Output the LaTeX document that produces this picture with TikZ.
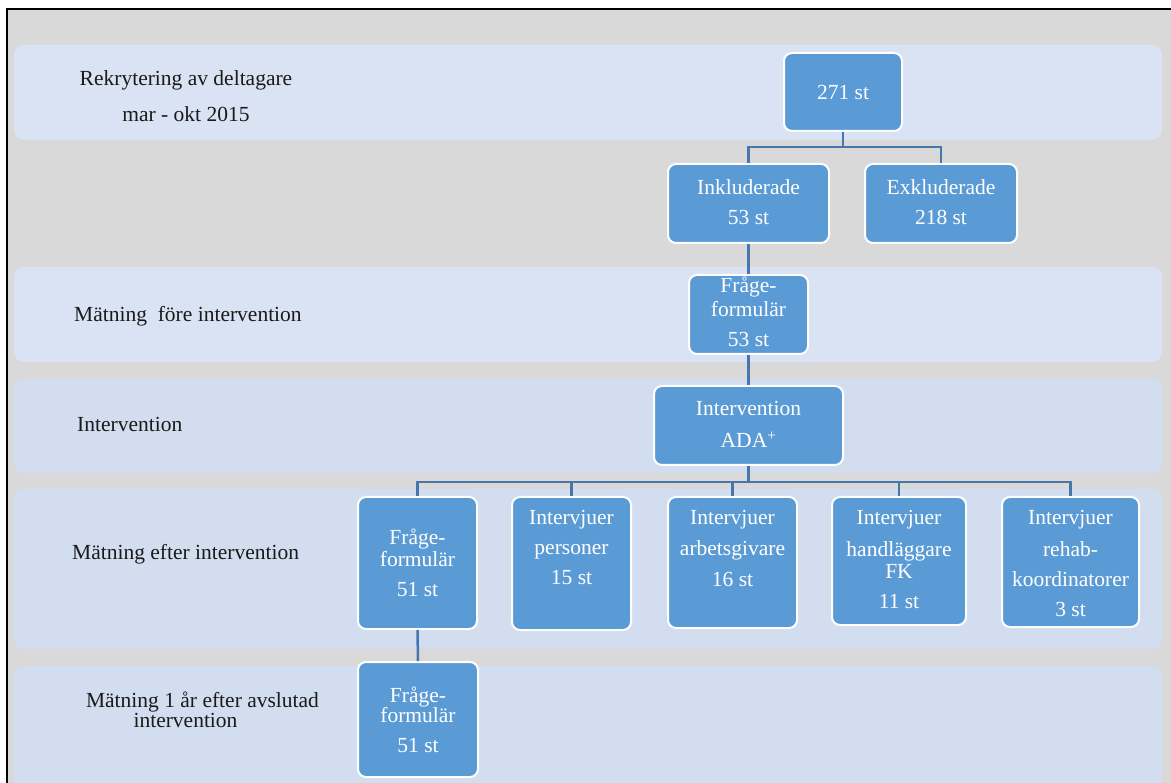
\documentclass[tikz,border=0pt]{standalone}
\usepackage{fontspec}
\setmainfont{Liberation Serif}
\usetikzlibrary{calc}

\definecolor{pagegray}{HTML}{D9D9D9}
\definecolor{bandA}{HTML}{DAE3F3}
\definecolor{bandB}{HTML}{D2DEEF}
\definecolor{boxblue}{HTML}{5B9BD5}
\definecolor{linkblue}{RGB}{70,118,170}
\definecolor{labelink}{HTML}{1A1A1A}

\newcommand{\stack}[1]{\begin{tabular}[t]{@{}c@{}}#1\end{tabular}}

\tikzset{
  band/.style={rounded corners=10pt, draw=none},
  stepbox/.style={rounded corners=8pt, fill=boxblue, draw=white, line width=2pt, inner sep=0pt},
  boxtext/.style={text=white, anchor=base, inner sep=0pt, font=\fontsize{21.5}{22}\selectfont},
  rowlabel/.style={text=labelink, inner sep=0pt, font=\fontsize{21.5}{29}\selectfont},
  link/.style={draw=linkblue, line width=2.5pt},
}

\begin{document}
\begin{tikzpicture}[x=1pt, y=-1pt]
\useasboundingbox (0,0) rectangle (1171,783);
\clip (0,0) rectangle (1171,783);

% page and frame
\fill[white] (0,0) rectangle (1171,783);
\fill[pagegray] (8,10) rectangle (1171,783);
\draw[black, line width=2pt] (7,790) -- (7,9) -- (1175,9);

% horizontal bands
\fill[band, bandA] (14,45) rectangle (1162,140);
\fill[band, bandA] (14,267) rectangle (1162,362);
\fill[band, bandB] (14,379) rectangle (1162,473);
\fill[band, bandB] (14,489) rectangle (1162,649);
\fill[band, bandB] (14,666) rectangle (1162,800);

% row labels
\node[rowlabel, anchor=base] (lab1) at (186,86) {\stack{Rekrytering av deltagare\\[7pt]mar - okt 2015}};
\node[rowlabel, anchor=base west] (lab2) at (74,322) {Mätning\ \ före intervention};
\node[rowlabel, anchor=base west] (lab3) at (77,432) {Intervention};
\node[rowlabel, anchor=base west] (lab4) at (72,560) {Mätning efter intervention};
\node[rowlabel, anchor=base] (lab5) at (202.5,707) {\fontsize{21.5}{20}\selectfont\stack{Mätning 1 år efter avslutad\\\hspace*{-34pt}intervention}};

% boxes
\node[stepbox, minimum width=118pt, minimum height=78pt] (n271) at (843,92) {};
\node[stepbox, minimum width=161pt, minimum height=79pt] (inkl) at (748.5,203.5) {};
\node[stepbox, minimum width=152pt, minimum height=79pt] (exkl) at (941,203.5) {};
\node[stepbox, minimum width=119pt, minimum height=79pt] (fq1) at (748.5,314.5) {};
\node[stepbox, minimum width=189pt, minimum height=79pt] (interv) at (748.5,425.5) {};
\node[stepbox, minimum width=119pt, minimum height=132pt] (fq2) at (417.5,563) {};
\node[stepbox, minimum width=119pt, minimum height=133pt] (pers) at (571.5,563.5) {};
\node[stepbox, minimum width=129pt, minimum height=131pt] (arb) at (732.5,562.5) {};
\node[stepbox, minimum width=134pt, minimum height=128pt] (hand) at (899,561) {};
\node[stepbox, minimum width=137pt, minimum height=130pt] (rehab) at (1070.5,562) {};
\node[stepbox, minimum width=120pt, minimum height=115pt] (fq3) at (418,719.5) {};

% box texts
\node[boxtext] (t271) at (843,100) {271 st};
\node[boxtext] (tinkl) at (748.5,195) {\stack{Inkluderade\\[8pt]53 st}};
\node[boxtext] (texkl) at (941,195) {\stack{Exkluderade\\[8pt]218 st}};
\node[boxtext] (tfq1) at (748.5,293) {\stack{Fråge-\\[2pt]formulär\\[8pt]53 st}};
\node[boxtext] (tinterv) at (748.5,416) {\stack{Intervention\\[9pt]ADA\textsuperscript{+}}};
\node[boxtext] (tfq2) at (417.5,544) {\stack{Fråge-\\formulär\\[8pt]51 st}};
\node[boxtext] (tpers) at (571.5,525) {\stack{Intervjuer\\[8pt]personer\\[8pt]15 st}};
\node[boxtext] (tarb) at (732.5,525) {\stack{Intervjuer\\[9pt]arbetsgivare\\[9pt]16 st}};
\node[boxtext] (thand) at (899,525) {\stack{Intervjuer\\[10pt]handläggare\\FK\\[8pt]11 st}};
\node[boxtext] (trehab) at (1070.5,525) {\stack{Intervjuer\\[10pt]rehab-\\[8pt]koordinatorer\\[8pt]3 st}};
\node[boxtext] (tfq3) at (418,702) {\stack{Fråge-\\[-2pt]formulär\\[8pt]51 st}};

% connectors
\coordinate (bus1) at (843,147);
\coordinate (bus2) at (748.5,482);
\draw[link] (n271.south) -- (bus1) -| (inkl.north);
\draw[link] (bus1) -| (exkl.north);
\draw[link] (inkl.south) -- (fq1.north);
\draw[link] (fq1.south) -- (interv.north);
\draw[link] (interv.south) -- (bus2);
\draw[link] (bus2) -| (fq2.north);
\draw[link] (bus2) -| (pers.north);
\draw[link] (bus2) -| (arb.north);
\draw[link] (bus2) -| (hand.north);
\draw[link] (bus2) -| (rehab.north);
\draw[link] (fq2.south) -- (fq3.north);
\end{tikzpicture}
\end{document}
